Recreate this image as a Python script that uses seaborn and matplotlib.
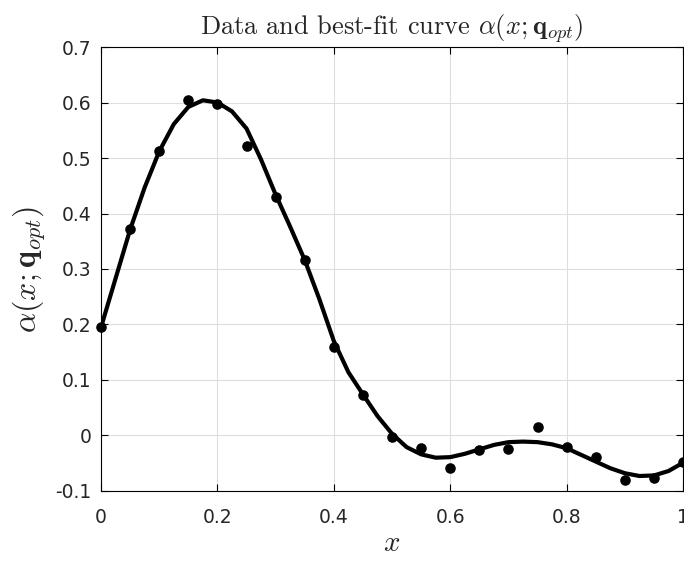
import numpy as np
import pandas as pd
import matplotlib
matplotlib.use("Agg")
import matplotlib.pyplot as plt
import seaborn as sns

# Measured data points
x_data = [0.00, 0.05, 0.10, 0.15, 0.20, 0.25, 0.30, 0.35, 0.40, 0.45, 0.50,
          0.55, 0.60, 0.65, 0.70, 0.75, 0.80, 0.85, 0.90, 0.95, 1.00]
y_data = [0.195, 0.372, 0.513, 0.605, 0.598, 0.522, 0.429, 0.317, 0.160, 0.073, -0.003,
          -0.023, -0.058, -0.027, -0.025, 0.016, -0.021, -0.038, -0.081, -0.076, -0.048]

# Best-fit curve
x_fit = [0.000, 0.025, 0.050, 0.075, 0.100, 0.125, 0.150, 0.175, 0.200, 0.225,
         0.250, 0.275, 0.300, 0.325, 0.350, 0.375, 0.400, 0.425, 0.450, 0.475,
         0.500, 0.525, 0.550, 0.575, 0.600, 0.625, 0.650, 0.675, 0.700, 0.725,
         0.750, 0.775, 0.800, 0.825, 0.850, 0.875, 0.900, 0.925, 0.950, 0.975,
         1.000]
y_fit = [0.195, 0.283, 0.371, 0.447, 0.512, 0.561, 0.592, 0.604, 0.600, 0.584,
         0.553, 0.497, 0.434, 0.376, 0.316, 0.246, 0.170, 0.114, 0.074, 0.035,
         0.003, -0.021, -0.034, -0.040, -0.039, -0.033, -0.025, -0.017, -0.012, -0.011,
         -0.012, -0.016, -0.023, -0.035, -0.047, -0.059, -0.068, -0.073, -0.072, -0.064,
         -0.049]

x_ticks = [0, 0.2, 0.4, 0.6, 0.8, 1.0]
x_ticklabels = ["0", "0.2", "0.4", "0.6", "0.8", "1"]
y_ticks = [-0.1, 0, 0.1, 0.2, 0.3, 0.4, 0.5, 0.6, 0.7]
y_ticklabels = ["-0.1", "0", "0.1", "0.2", "0.3", "0.4", "0.5", "0.6", "0.7"]

sns.set_theme(style="whitegrid")
plt.rcParams["font.family"] = ["DejaVu Sans"]
plt.rcParams["mathtext.fontset"] = "cm"

df_pts = pd.DataFrame({"x": x_data, "y": y_data})
df_fit = pd.DataFrame({"x": x_fit, "y": y_fit})

fig = plt.figure(figsize=(6.84, 5.61), dpi=100)
ax = fig.add_axes([0.1477, 0.1248, 0.851, 0.7914])
ax.set_facecolor("white")

sns.lineplot(data=df_fit, x="x", y="y", ax=ax, color="black", linewidth=3.0,
             sort=True, zorder=3, solid_joinstyle="round", solid_capstyle="round")
sns.scatterplot(data=df_pts, x="x", y="y", ax=ax, color="black", s=58,
                edgecolor="black", linewidth=0, zorder=4, clip_on=False)

ax.set_xlim(0, 1)
ax.set_ylim(-0.1, 0.7)
ax.set_xticks(x_ticks)
ax.set_xticklabels(x_ticklabels)
ax.set_yticks(y_ticks)
ax.set_yticklabels(y_ticklabels)

ax.grid(True, color="#dedede", linewidth=0.8)
for s in ax.spines.values():
    s.set_color("black")
    s.set_linewidth(0.8)
ax.tick_params(direction="in", length=5, width=0.8, color="black",
               top=True, right=True, bottom=True, left=True,
               labelsize=13.5, labelcolor="#262626")
ax.tick_params(axis="x", pad=12)
ax.tick_params(axis="y", pad=7)

ax.set_xlabel(r"$x$", fontsize=21, labelpad=2)
ax.set_ylabel(r"$\alpha(x;\mathbf{q}_{opt})$", fontsize=23, labelpad=5)
ax.set_title(r"Data and best-fit curve $\alpha(x;\mathbf{q}_{opt})$",
             fontsize=19, family="cmr10", pad=9)

fig.savefig("out.png", dpi=100, facecolor="white")
